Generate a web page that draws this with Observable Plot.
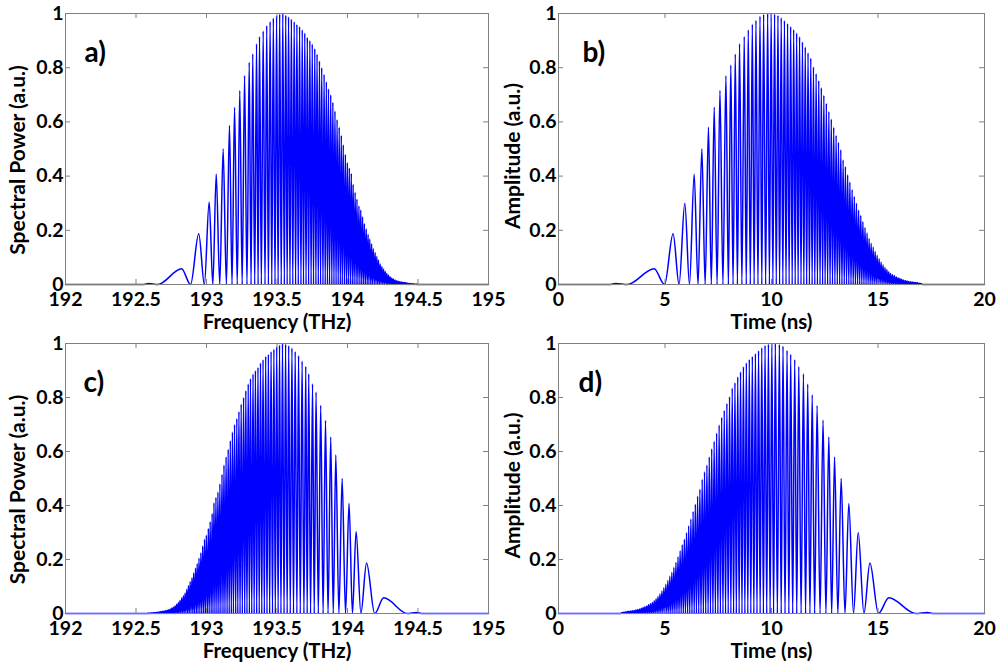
<!DOCTYPE html>
<html>
<head>
<meta charset="utf-8">
<script src="https://cdn.jsdelivr.net/npm/d3@7"></script>
<script src="https://cdn.jsdelivr.net/npm/@observablehq/plot@0.6"></script>
<style>
  html, body { margin: 0; padding: 0; background: #fff; }
  #fig { position: relative; width: 1003px; height: 664px; background: #fff; overflow: hidden; }
  #fig > div { position: absolute; }
  svg { overflow: visible; }
</style>
</head>
<body>
<div id="fig">
  <div id="pa" style="left:0px;top:0px"></div>
  <div id="pb" style="left:501px;top:0px"></div>
  <div id="pc" style="left:0px;top:332px"></div>
  <div id="pd" style="left:501px;top:332px"></div>
</div>
<script>
// ---------- axis ticks ----------
const freqTicks = [192, 192.5, 193, 193.5, 194, 194.5, 195];
const freqTickLabels = ["192", "192.5", "193", "193.5", "194", "194.5", "195"];
const timeTicks = [0, 5, 10, 15, 20];
const timeTickLabels = ["0", "5", "10", "15", "20"];
const yTicks = [0, 0.2, 0.4, 0.6, 0.8, 1];
const yTickLabels = ["0", "0.2", "0.4", "0.6", "0.8", "1"];

// ---------- panel a) spectral power vs frequency (THz) ----------
const peakFreqA = [192.59, 192.823, 192.945, 193.019, 193.069, 193.118, 193.163, 193.199, 193.236, 193.270, 193.303, 193.328, 193.355, 193.376, 193.402, 193.427, 193.451, 193.474, 193.497, 193.519, 193.541, 193.562, 193.582, 193.602, 193.622, 193.641, 193.660, 193.679, 193.697, 193.715, 193.733, 193.750, 193.768, 193.784, 193.801, 193.817, 193.834, 193.850, 193.865, 193.881, 193.896, 193.911, 193.926, 193.941, 193.956, 193.970, 193.985, 193.999, 194.013, 194.027, 194.040, 194.054, 194.067, 194.081, 194.094, 194.107, 194.120, 194.133, 194.146, 194.158, 194.171, 194.183, 194.196, 194.208, 194.220, 194.232, 194.244, 194.256, 194.268, 194.279, 194.291, 194.303, 194.314, 194.325, 194.337, 194.348, 194.359, 194.370, 194.381, 194.392, 194.403, 194.414, 194.425, 194.435, 194.446, 194.456, 194.467, 194.477, 194.488, 194.498];
const peakPowerA = [0.004, 0.058, 0.187, 0.304, 0.408, 0.50, 0.587, 0.654, 0.716, 0.771, 0.82, 0.851, 0.888, 0.915, 0.935, 0.955, 0.97, 0.983, 0.992, 0.998, 1.0, 0.994, 0.988, 0.979, 0.97, 0.96, 0.952, 0.94, 0.928, 0.912, 0.90, 0.887, 0.87, 0.85, 0.825, 0.80, 0.775, 0.748, 0.722, 0.70, 0.672, 0.64, 0.608, 0.58, 0.55, 0.515, 0.48, 0.45, 0.43, 0.41, 0.37, 0.34, 0.315, 0.29, 0.275, 0.25, 0.225, 0.205, 0.185, 0.168, 0.15, 0.132, 0.118, 0.104, 0.09, 0.076, 0.066, 0.057, 0.048, 0.041, 0.034, 0.028, 0.023, 0.020, 0.017, 0.014, 0.012, 0.010, 0.009, 0.008, 0.007, 0.006, 0.005, 0.004, 0.004, 0.003, 0.003, 0.002, 0.002, 0.001];
const troughFreqA = [192.55, 192.655, 192.887, 192.985, 193.045, 193.094, 193.141, 193.181, 193.218, 193.253, 193.287, 193.316, 193.342, 193.366, 193.389, 193.415, 193.439, 193.463, 193.486, 193.508, 193.530, 193.552, 193.572, 193.592, 193.612, 193.632, 193.651, 193.670, 193.688, 193.706, 193.724, 193.742, 193.759, 193.776, 193.793, 193.809, 193.826, 193.842, 193.858, 193.873, 193.889, 193.904, 193.919, 193.934, 193.949, 193.963, 193.978, 193.992, 194.006, 194.020, 194.034, 194.047, 194.061, 194.074, 194.088, 194.101, 194.114, 194.127, 194.140, 194.152, 194.165, 194.177, 194.190, 194.202, 194.214, 194.226, 194.238, 194.250, 194.262, 194.274, 194.285, 194.297, 194.309, 194.320, 194.331, 194.343, 194.354, 194.365, 194.376, 194.387, 194.398, 194.409, 194.420, 194.430, 194.441, 194.451, 194.462, 194.472, 194.483, 194.493, 194.503];

// ---------- panel b) amplitude vs time (ns) ----------
const peakTimeB = [2.68, 4.49, 5.38, 5.93, 6.37, 6.73, 7.04, 7.31, 7.58, 7.86, 8.09, 8.30, 8.50, 8.72, 8.91, 9.10, 9.27, 9.46, 9.63, 9.82, 9.984, 10.145, 10.303, 10.457, 10.608, 10.755, 10.900, 11.042, 11.181, 11.318, 11.453, 11.585, 11.716, 11.844, 11.970, 12.095, 12.218, 12.339, 12.458, 12.576, 12.692, 12.807, 12.921, 13.033, 13.144, 13.254, 13.362, 13.470, 13.576, 13.681, 13.785, 13.888, 13.990, 14.091, 14.191, 14.290, 14.389, 14.486, 14.583, 14.678, 14.773, 14.867, 14.961, 15.053, 15.145, 15.236, 15.327, 15.417, 15.506, 15.594, 15.682, 15.769, 15.856, 15.942, 16.027, 16.112, 16.197, 16.280, 16.363, 16.446, 16.528, 16.610, 16.691, 16.772, 16.852, 16.931, 17.011];
const peakAmpB = [0.004, 0.058, 0.187, 0.30, 0.407, 0.50, 0.58, 0.654, 0.716, 0.77, 0.81, 0.85, 0.888, 0.915, 0.94, 0.96, 0.975, 0.99, 0.997, 1.0, 1.0, 0.998, 0.993, 0.984, 0.974, 0.963, 0.952, 0.941, 0.928, 0.914, 0.895, 0.876, 0.855, 0.835, 0.803, 0.778, 0.752, 0.726, 0.698, 0.668, 0.638, 0.61, 0.58, 0.55, 0.525, 0.497, 0.46, 0.435, 0.405, 0.378, 0.35, 0.325, 0.30, 0.275, 0.255, 0.232, 0.21, 0.19, 0.17, 0.152, 0.138, 0.122, 0.108, 0.095, 0.083, 0.073, 0.063, 0.055, 0.047, 0.041, 0.036, 0.032, 0.028, 0.025, 0.022, 0.019, 0.017, 0.015, 0.013, 0.011, 0.010, 0.009, 0.008, 0.007, 0.006, 0.005, 0.004];
const troughTimeB = [2.4, 3.23, 4.98, 5.66, 6.15, 6.55, 6.885, 7.175, 7.445, 7.72, 7.975, 8.195, 8.40, 8.61, 8.815, 9.005, 9.185, 9.365, 9.545, 9.725, 9.902, 10.065, 10.224, 10.380, 10.533, 10.682, 10.828, 10.971, 11.112, 11.250, 11.386, 11.519, 11.651, 11.780, 11.907, 12.033, 12.157, 12.279, 12.399, 12.517, 12.634, 12.750, 12.864, 12.977, 13.089, 13.199, 13.308, 13.416, 13.523, 13.629, 13.733, 13.837, 13.939, 14.041, 14.141, 14.241, 14.340, 14.438, 14.535, 14.631, 14.726, 14.820, 14.914, 15.007, 15.099, 15.191, 15.282, 15.372, 15.462, 15.550, 15.638, 15.726, 15.813, 15.899, 15.985, 16.070, 16.155, 16.239, 16.322, 16.405, 16.487, 16.569, 16.651, 16.732, 16.812, 16.892, 16.971, 17.09];

// ---------- panel c) spectral power vs frequency (THz) ----------
const peakFreqC = [192.582, 192.592, 192.603, 192.613, 192.624, 192.634, 192.645, 192.655, 192.666, 192.677, 192.688, 192.699, 192.710, 192.721, 192.732, 192.743, 192.755, 192.766, 192.777, 192.789, 192.801, 192.812, 192.824, 192.836, 192.848, 192.860, 192.872, 192.884, 192.897, 192.909, 192.922, 192.934, 192.947, 192.960, 192.973, 192.986, 192.999, 193.013, 193.026, 193.040, 193.053, 193.067, 193.081, 193.095, 193.110, 193.124, 193.139, 193.154, 193.169, 193.184, 193.199, 193.215, 193.230, 193.246, 193.263, 193.279, 193.296, 193.312, 193.330, 193.347, 193.365, 193.383, 193.401, 193.420, 193.439, 193.458, 193.478, 193.498, 193.518, 193.539, 193.561, 193.583, 193.606, 193.629, 193.653, 193.678, 193.704, 193.725, 193.752, 193.777, 193.810, 193.844, 193.881, 193.917, 193.962, 194.011, 194.061, 194.135, 194.257, 194.49];
const peakPowerC = [0.001, 0.002, 0.002, 0.003, 0.003, 0.004, 0.004, 0.005, 0.006, 0.007, 0.008, 0.009, 0.010, 0.012, 0.014, 0.017, 0.020, 0.023, 0.028, 0.034, 0.041, 0.048, 0.057, 0.066, 0.076, 0.09, 0.104, 0.118, 0.132, 0.15, 0.168, 0.185, 0.205, 0.225, 0.25, 0.275, 0.29, 0.315, 0.34, 0.37, 0.41, 0.43, 0.45, 0.48, 0.515, 0.55, 0.58, 0.608, 0.64, 0.672, 0.70, 0.722, 0.748, 0.775, 0.80, 0.825, 0.85, 0.87, 0.887, 0.90, 0.912, 0.928, 0.94, 0.952, 0.96, 0.97, 0.979, 0.988, 0.994, 1.0, 0.998, 0.992, 0.983, 0.97, 0.955, 0.935, 0.915, 0.888, 0.851, 0.82, 0.771, 0.716, 0.654, 0.587, 0.50, 0.408, 0.304, 0.187, 0.058, 0.004];
const troughFreqC = [192.577, 192.587, 192.597, 192.608, 192.618, 192.629, 192.639, 192.650, 192.660, 192.671, 192.682, 192.693, 192.704, 192.715, 192.726, 192.737, 192.749, 192.760, 192.771, 192.783, 192.795, 192.806, 192.818, 192.830, 192.842, 192.854, 192.866, 192.878, 192.890, 192.903, 192.915, 192.928, 192.940, 192.953, 192.966, 192.979, 192.992, 193.006, 193.019, 193.033, 193.046, 193.060, 193.074, 193.088, 193.102, 193.117, 193.131, 193.146, 193.161, 193.176, 193.191, 193.207, 193.222, 193.238, 193.254, 193.271, 193.287, 193.304, 193.321, 193.338, 193.356, 193.374, 193.392, 193.410, 193.429, 193.448, 193.468, 193.488, 193.508, 193.528, 193.550, 193.572, 193.594, 193.617, 193.641, 193.665, 193.691, 193.714, 193.738, 193.764, 193.793, 193.827, 193.862, 193.899, 193.939, 193.986, 194.035, 194.095, 194.193, 194.425, 194.53];

// ---------- panel d) amplitude vs time (ns) ----------
const peakTimeD = [2.989, 3.069, 3.148, 3.228, 3.309, 3.390, 3.472, 3.554, 3.637, 3.720, 3.803, 3.888, 3.973, 4.058, 4.144, 4.231, 4.318, 4.406, 4.494, 4.583, 4.673, 4.764, 4.855, 4.947, 5.039, 5.133, 5.227, 5.322, 5.417, 5.514, 5.611, 5.710, 5.809, 5.909, 6.010, 6.112, 6.215, 6.319, 6.424, 6.530, 6.638, 6.746, 6.856, 6.967, 7.079, 7.193, 7.308, 7.424, 7.542, 7.661, 7.782, 7.905, 8.030, 8.156, 8.284, 8.415, 8.547, 8.682, 8.819, 8.958, 9.100, 9.245, 9.392, 9.543, 9.697, 9.855, 10.016, 10.18, 10.37, 10.54, 10.73, 10.90, 11.09, 11.28, 11.50, 11.70, 11.91, 12.14, 12.42, 12.69, 12.96, 13.27, 13.63, 14.07, 14.62, 15.51, 17.32];
const peakAmpD = [0.004, 0.005, 0.006, 0.007, 0.008, 0.009, 0.010, 0.011, 0.013, 0.015, 0.017, 0.019, 0.022, 0.025, 0.028, 0.032, 0.036, 0.041, 0.047, 0.055, 0.063, 0.073, 0.083, 0.095, 0.108, 0.122, 0.138, 0.152, 0.17, 0.19, 0.21, 0.232, 0.255, 0.275, 0.30, 0.325, 0.35, 0.378, 0.405, 0.435, 0.46, 0.497, 0.525, 0.55, 0.58, 0.61, 0.638, 0.668, 0.698, 0.726, 0.752, 0.778, 0.803, 0.835, 0.855, 0.876, 0.895, 0.914, 0.928, 0.941, 0.952, 0.963, 0.974, 0.984, 0.993, 0.998, 1.0, 1.0, 0.997, 0.99, 0.975, 0.96, 0.94, 0.915, 0.888, 0.85, 0.81, 0.77, 0.716, 0.654, 0.58, 0.50, 0.407, 0.30, 0.187, 0.058, 0.004];
const troughTimeD = [2.91, 3.029, 3.108, 3.188, 3.268, 3.349, 3.431, 3.513, 3.595, 3.678, 3.761, 3.845, 3.930, 4.015, 4.101, 4.187, 4.274, 4.362, 4.450, 4.538, 4.628, 4.718, 4.809, 4.901, 4.993, 5.086, 5.180, 5.274, 5.369, 5.465, 5.562, 5.660, 5.759, 5.859, 5.959, 6.061, 6.163, 6.267, 6.371, 6.477, 6.584, 6.692, 6.801, 6.911, 7.023, 7.136, 7.250, 7.366, 7.483, 7.601, 7.721, 7.843, 7.967, 8.093, 8.220, 8.349, 8.481, 8.614, 8.750, 8.888, 9.029, 9.172, 9.318, 9.467, 9.620, 9.776, 9.935, 10.098, 10.275, 10.455, 10.635, 10.815, 10.995, 11.185, 11.39, 11.60, 11.805, 12.025, 12.28, 12.555, 12.825, 13.115, 13.45, 13.85, 14.34, 15.02, 16.77, 17.6];

// ---------- rendering ----------
const FONT = "Lato, 'Open Sans', sans-serif";
const BLUE = "#0000ff";
const GRID = "#808080";

function buildPoints(px, py, tx, domain) {
  const pts = [{x: domain[0], y: 0}];
  tx.forEach(x => pts.push({x, y: 0}));
  px.forEach((x, i) => pts.push({x, y: py[i]}));
  pts.push({x: domain[1], y: 0});
  pts.sort((a, b) => a.x - b.x);
  return pts;
}

function panel(cfg) {
  const {el, W, H, mL, mR, mT, mB, domain, xTicks, xLabels, xLabel, yLabel, tag, yLabelDx, yLabelDy, tagDx, pts} = cfg;
  const pw = W - mL - mR, ph = H - mT - mB;
  const chart = Plot.plot({
    width: W, height: H,
    marginLeft: mL, marginRight: mR, marginTop: mT, marginBottom: mB,
    style: {fontFamily: FONT, background: "transparent", color: "#000", overflow: "visible"},
    x: {domain, axis: null},
    y: {domain: [0, 1], axis: null},
    marks: [
      Plot.line(pts, {x: "x", y: "y", stroke: BLUE, strokeWidth: 1.5, curve: "monotone-x"}),
      Plot.frame({stroke: GRID, strokeWidth: 1}),
      Plot.ruleX(xTicks, {x: d => d, stroke: GRID, insetTop: ph - 5}),
      Plot.ruleX(xTicks, {x: d => d, stroke: GRID, insetBottom: ph - 5}),
      Plot.ruleY(yTicks, {y: d => d, stroke: GRID, insetRight: pw - 5}),
      Plot.ruleY(yTicks, {y: d => d, stroke: GRID, insetLeft: pw - 5}),
      Plot.axisX(xTicks, {tickSize: 0, tickPadding: 8, tickFormat: (d, i) => xLabels[i],
        fontSize: 19.5, fontWeight: "bold", fill: "#000", label: null}),
      Plot.axisY(yTicks, {tickSize: 0, tickPadding: 2, tickFormat: (d, i) => yTickLabels[i],
        fontSize: 19.5, fontWeight: "bold", fill: "#000", label: null}),
      Plot.text([xLabel], {frameAnchor: "bottom", textAnchor: "middle", lineAnchor: "middle", dy: 38,
        fontSize: 20.5, fontWeight: "bold", fill: "#000"}),
      Plot.text([yLabel], {frameAnchor: "left", textAnchor: "middle", lineAnchor: "middle", dx: yLabelDx, dy: yLabelDy, rotate: -90,
        fontSize: 21, fontWeight: "bold", fill: "#000"}),
      Plot.text([tag], {frameAnchor: "top-left", textAnchor: "start", lineAnchor: "middle", dx: tagDx, dy: 40,
        fontSize: 28, fontWeight: "bold", fill: "#000"})
    ]
  });
  document.getElementById(el).appendChild(chart);
}

panel({el: "pa", W: 501, H: 332, mL: 65, mR: 13, mT: 13, mB: 48,
  domain: [192, 195], xTicks: freqTicks, xLabels: freqTickLabels,
  xLabel: "Frequency (THz)", yLabel: "Spectral Power (a.u.)", tag: "a)", yLabelDx: -47, yLabelDy: 11, tagDx: 19,
  pts: buildPoints(peakFreqA, peakPowerA, troughFreqA, [192, 195])});

panel({el: "pb", W: 502, H: 332, mL: 57, mR: 19, mT: 13, mB: 48,
  domain: [0, 20], xTicks: timeTicks, xLabels: timeTickLabels,
  xLabel: "Time (ns)", yLabel: "Amplitude (a.u.)", tag: "b)", yLabelDx: -45, yLabelDy: 7, tagDx: 24,
  pts: buildPoints(peakTimeB, peakAmpB, troughTimeB, [0, 20])});

panel({el: "pc", W: 501, H: 332, mL: 65, mR: 13, mT: 11, mB: 51,
  domain: [192, 195], xTicks: freqTicks, xLabels: freqTickLabels,
  xLabel: "Frequency (THz)", yLabel: "Spectral Power (a.u.)", tag: "c)", yLabelDx: -47, yLabelDy: 11, tagDx: 18,
  pts: buildPoints(peakFreqC, peakPowerC, troughFreqC, [192, 195])});

panel({el: "pd", W: 502, H: 332, mL: 57, mR: 19, mT: 11, mB: 51,
  domain: [0, 20], xTicks: timeTicks, xLabels: timeTickLabels,
  xLabel: "Time (ns)", yLabel: "Amplitude (a.u.)", tag: "d)", yLabelDx: -45, yLabelDy: 7, tagDx: 20,
  pts: buildPoints(peakTimeD, peakAmpD, troughTimeD, [0, 20])});
</script>
</body>
</html>
